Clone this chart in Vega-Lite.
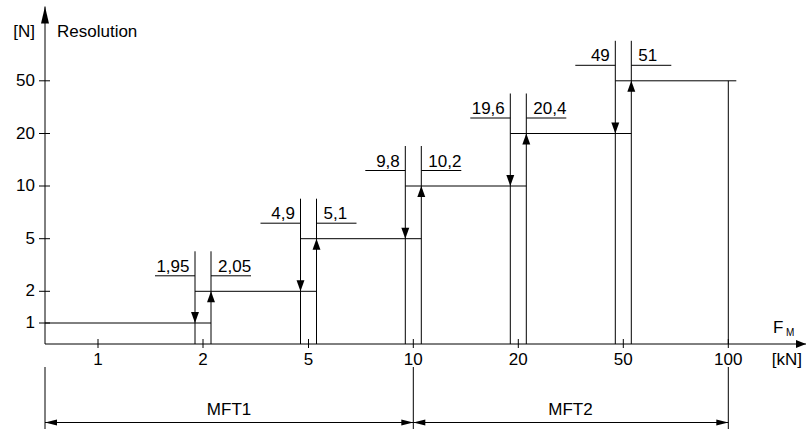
{
  "$schema": "https://vega.github.io/schema/vega-lite/v6.json",
  "width": 806,
  "height": 429,
  "padding": 0,
  "autosize": {"type": "none"},
  "background": "white",
  "config": {
    "view": {"stroke": null},
    "mark": {"color": "black"},
    "rule": {"color": "black", "strokeWidth": 1},
    "text": {"font": "Liberation Sans", "fontSize": 17, "color": "black"},
    "point": {"filled": true, "opacity": 1, "strokeWidth": 0, "color": "black"}
  },
  "datasets": {
    "switches": [
      {"at": 2, "down": "1,95", "up": "2,05", "lo": 1, "hi": 2, "base": 0},
      {"at": 5, "down": "4,9", "up": "5,1", "lo": 2, "hi": 5, "base": 0},
      {"at": 10, "down": "9,8", "up": "10,2", "lo": 5, "hi": 10, "base": 0},
      {"at": 20, "down": "19,6", "up": "20,4", "lo": 10, "hi": 20, "base": 0},
      {"at": 50, "down": "49", "up": "51", "lo": 20, "hi": 50, "base": 0}
    ],
    "levels": [
      {"level": 1, "from": 0, "to": 2},
      {"level": 2, "from": 2, "to": 5},
      {"level": 5, "from": 5, "to": 10},
      {"level": 10, "from": 10, "to": 20},
      {"level": 20, "from": 20, "to": 50},
      {"level": 50, "from": 50, "to": 100}
    ],
    "xticks": [{"v": 1, "origin": 0}, {"v": 2, "origin": 0}, {"v": 5, "origin": 0}, {"v": 10, "origin": 0}, {"v": 20, "origin": 0}, {"v": 50, "origin": 0}, {"v": 100, "origin": 0}],
    "yticks": [{"v": 1, "origin": 0}, {"v": 2, "origin": 0}, {"v": 5, "origin": 0}, {"v": 10, "origin": 0}, {"v": 20, "origin": 0}, {"v": 50, "origin": 0}],
    "ranges": [
      {"name": "MFT1", "from": 0, "to": 10, "mid": 2.74, "dim": -1},
      {"name": "MFT2", "from": 10, "to": 100, "mid": 34.9, "dim": -1}
    ],
    "bounds": [{"at": 0, "base": 0, "dim": -1}, {"at": 10, "base": 0, "dim": -1}, {"at": 100, "base": 0, "dim": -1}],
    "frame": [{"x0": 0, "x_end": 200, "y0": 0, "y_end": 100, "x_last": 100, "y_last": 50}]
  },
  "layer": [
    {
      "data": {"name": "frame"},
      "mark": {"type": "rule"},
      "encoding": {
        "x": {"field": "x0", "type": "quantitative", "axis": null, "scale": {"domain": [0,1,2,5,10,20,50,100,200], "range": [45,98,203,308.5,413.3,518.3,623.3,728.3,806], "zero": false, "nice": false}},
        "y": {"field": "y0", "type": "quantitative", "axis": null, "scale": {"domain": [-1,0,1,2,5,10,20,50,100], "range": [422.5,344,323,291.3,238.7,186,133.5,80.8,6.5], "zero": false, "nice": false}},
        "y2": {"field": "y_end"}
      }
    },
    {
      "data": {"name": "frame"},
      "mark": {"type": "rule"},
      "encoding": {
        "x": {"field": "x0", "type": "quantitative", "axis": null, "scale": {"domain": [0,1,2,5,10,20,50,100,200], "range": [45,98,203,308.5,413.3,518.3,623.3,728.3,806], "zero": false, "nice": false}},
        "x2": {"field": "x_end"},
        "y": {"field": "y0", "type": "quantitative", "axis": null, "scale": {"domain": [-1,0,1,2,5,10,20,50,100], "range": [422.5,344,323,291.3,238.7,186,133.5,80.8,6.5], "zero": false, "nice": false}}
      }
    },
    {
      "data": {"name": "frame"},
      "mark": {"type": "point", "shape": "M-0.235,1 L0.235,1 L0,0 Z", "size": 1156},
      "encoding": {
        "x": {"field": "x0", "type": "quantitative", "axis": null, "scale": {"domain": [0,1,2,5,10,20,50,100,200], "range": [45,98,203,308.5,413.3,518.3,623.3,728.3,806], "zero": false, "nice": false}},
        "y": {"field": "y_end", "type": "quantitative", "axis": null, "scale": {"domain": [-1,0,1,2,5,10,20,50,100], "range": [422.5,344,323,291.3,238.7,186,133.5,80.8,6.5], "zero": false, "nice": false}}
      }
    },
    {
      "data": {"name": "frame"},
      "mark": {"type": "point", "shape": "M-1,-0.4 L-1,0.4 L0,0 Z", "size": 400},
      "encoding": {
        "x": {"field": "x_end", "type": "quantitative", "axis": null, "scale": {"domain": [0,1,2,5,10,20,50,100,200], "range": [45,98,203,308.5,413.3,518.3,623.3,728.3,806], "zero": false, "nice": false}},
        "y": {"field": "y0", "type": "quantitative", "axis": null, "scale": {"domain": [-1,0,1,2,5,10,20,50,100], "range": [422.5,344,323,291.3,238.7,186,133.5,80.8,6.5], "zero": false, "nice": false}}
      }
    },
    {
      "data": {"name": "yticks"},
      "mark": {"type": "rule", "xOffset": -6, "x2Offset": 5},
      "encoding": {
        "x": {"field": "origin", "type": "quantitative", "axis": null, "scale": {"domain": [0,1,2,5,10,20,50,100,200], "range": [45,98,203,308.5,413.3,518.3,623.3,728.3,806], "zero": false, "nice": false}},
        "x2": {"field": "origin"},
        "y": {"field": "v", "type": "quantitative", "axis": null, "scale": {"domain": [-1,0,1,2,5,10,20,50,100], "range": [422.5,344,323,291.3,238.7,186,133.5,80.8,6.5], "zero": false, "nice": false}}
      }
    },
    {
      "data": {"name": "yticks"},
      "mark": {"type": "text", "align": "right", "baseline": "middle", "dx": -10},
      "encoding": {
        "x": {"field": "origin", "type": "quantitative", "axis": null, "scale": {"domain": [0,1,2,5,10,20,50,100,200], "range": [45,98,203,308.5,413.3,518.3,623.3,728.3,806], "zero": false, "nice": false}},
        "y": {"field": "v", "type": "quantitative", "axis": null, "scale": {"domain": [-1,0,1,2,5,10,20,50,100], "range": [422.5,344,323,291.3,238.7,186,133.5,80.8,6.5], "zero": false, "nice": false}},
        "text": {"field": "v", "type": "nominal"}
      }
    },
    {
      "data": {"name": "xticks"},
      "mark": {"type": "rule", "yOffset": 4, "y2Offset": -5},
      "encoding": {
        "x": {"field": "v", "type": "quantitative", "axis": null, "scale": {"domain": [0,1,2,5,10,20,50,100,200], "range": [45,98,203,308.5,413.3,518.3,623.3,728.3,806], "zero": false, "nice": false}},
        "y": {"field": "origin", "type": "quantitative", "axis": null, "scale": {"domain": [-1,0,1,2,5,10,20,50,100], "range": [422.5,344,323,291.3,238.7,186,133.5,80.8,6.5], "zero": false, "nice": false}},
        "y2": {"field": "origin"}
      }
    },
    {
      "data": {"name": "xticks"},
      "mark": {"type": "text", "align": "center", "baseline": "alphabetic", "dy": 20.5},
      "encoding": {
        "x": {"field": "v", "type": "quantitative", "axis": null, "scale": {"domain": [0,1,2,5,10,20,50,100,200], "range": [45,98,203,308.5,413.3,518.3,623.3,728.3,806], "zero": false, "nice": false}},
        "y": {"field": "origin", "type": "quantitative", "axis": null, "scale": {"domain": [-1,0,1,2,5,10,20,50,100], "range": [422.5,344,323,291.3,238.7,186,133.5,80.8,6.5], "zero": false, "nice": false}},
        "text": {"field": "v", "type": "nominal"}
      }
    },
    {
      "data": {"name": "levels"},
      "transform": [{"filter": "datum.from > 0"}],
      "mark": {"type": "rule", "xOffset": -8, "x2Offset": 8},
      "encoding": {
        "x": {"field": "from", "type": "quantitative", "axis": null, "scale": {"domain": [0,1,2,5,10,20,50,100,200], "range": [45,98,203,308.5,413.3,518.3,623.3,728.3,806], "zero": false, "nice": false}},
        "x2": {"field": "to"},
        "y": {"field": "level", "type": "quantitative", "axis": null, "scale": {"domain": [-1,0,1,2,5,10,20,50,100], "range": [422.5,344,323,291.3,238.7,186,133.5,80.8,6.5], "zero": false, "nice": false}}
      }
    },
    {
      "data": {"name": "levels"},
      "transform": [{"filter": "datum.from == 0"}],
      "mark": {"type": "rule", "x2Offset": 8},
      "encoding": {
        "x": {"field": "from", "type": "quantitative", "axis": null, "scale": {"domain": [0,1,2,5,10,20,50,100,200], "range": [45,98,203,308.5,413.3,518.3,623.3,728.3,806], "zero": false, "nice": false}},
        "x2": {"field": "to"},
        "y": {"field": "level", "type": "quantitative", "axis": null, "scale": {"domain": [-1,0,1,2,5,10,20,50,100], "range": [422.5,344,323,291.3,238.7,186,133.5,80.8,6.5], "zero": false, "nice": false}}
      }
    },
    {
      "data": {"name": "switches"},
      "mark": {"type": "rule", "xOffset": -8, "y2Offset": -40},
      "encoding": {
        "x": {"field": "at", "type": "quantitative", "axis": null, "scale": {"domain": [0,1,2,5,10,20,50,100,200], "range": [45,98,203,308.5,413.3,518.3,623.3,728.3,806], "zero": false, "nice": false}},
        "y": {"field": "base", "type": "quantitative", "axis": null, "scale": {"domain": [-1,0,1,2,5,10,20,50,100], "range": [422.5,344,323,291.3,238.7,186,133.5,80.8,6.5], "zero": false, "nice": false}},
        "y2": {"field": "hi"}
      }
    },
    {
      "data": {"name": "switches"},
      "mark": {"type": "rule", "xOffset": 8, "y2Offset": -40},
      "encoding": {
        "x": {"field": "at", "type": "quantitative", "axis": null, "scale": {"domain": [0,1,2,5,10,20,50,100,200], "range": [45,98,203,308.5,413.3,518.3,623.3,728.3,806], "zero": false, "nice": false}},
        "y": {"field": "base", "type": "quantitative", "axis": null, "scale": {"domain": [-1,0,1,2,5,10,20,50,100], "range": [422.5,344,323,291.3,238.7,186,133.5,80.8,6.5], "zero": false, "nice": false}},
        "y2": {"field": "hi"}
      }
    },
    {
      "data": {"name": "switches"},
      "mark": {"type": "point", "shape": "M-0.36,-1 L0.36,-1 L0,0 Z", "size": 484, "xOffset": -8},
      "encoding": {
        "x": {"field": "at", "type": "quantitative", "axis": null, "scale": {"domain": [0,1,2,5,10,20,50,100,200], "range": [45,98,203,308.5,413.3,518.3,623.3,728.3,806], "zero": false, "nice": false}},
        "y": {"field": "lo", "type": "quantitative", "axis": null, "scale": {"domain": [-1,0,1,2,5,10,20,50,100], "range": [422.5,344,323,291.3,238.7,186,133.5,80.8,6.5], "zero": false, "nice": false}}
      }
    },
    {
      "data": {"name": "switches"},
      "mark": {"type": "point", "shape": "M-0.36,1 L0.36,1 L0,0 Z", "size": 484, "xOffset": 8},
      "encoding": {
        "x": {"field": "at", "type": "quantitative", "axis": null, "scale": {"domain": [0,1,2,5,10,20,50,100,200], "range": [45,98,203,308.5,413.3,518.3,623.3,728.3,806], "zero": false, "nice": false}},
        "y": {"field": "hi", "type": "quantitative", "axis": null, "scale": {"domain": [-1,0,1,2,5,10,20,50,100], "range": [422.5,344,323,291.3,238.7,186,133.5,80.8,6.5], "zero": false, "nice": false}}
      }
    },
    {
      "data": {"name": "switches"},
      "mark": {"type": "rule", "xOffset": -48, "x2Offset": -8, "yOffset": -15.5},
      "encoding": {
        "x": {"field": "at", "type": "quantitative", "axis": null, "scale": {"domain": [0,1,2,5,10,20,50,100,200], "range": [45,98,203,308.5,413.3,518.3,623.3,728.3,806], "zero": false, "nice": false}},
        "x2": {"field": "at"},
        "y": {"field": "hi", "type": "quantitative", "axis": null, "scale": {"domain": [-1,0,1,2,5,10,20,50,100], "range": [422.5,344,323,291.3,238.7,186,133.5,80.8,6.5], "zero": false, "nice": false}}
      }
    },
    {
      "data": {"name": "switches"},
      "mark": {"type": "rule", "xOffset": 8, "x2Offset": 48, "yOffset": -15.5},
      "encoding": {
        "x": {"field": "at", "type": "quantitative", "axis": null, "scale": {"domain": [0,1,2,5,10,20,50,100,200], "range": [45,98,203,308.5,413.3,518.3,623.3,728.3,806], "zero": false, "nice": false}},
        "x2": {"field": "at"},
        "y": {"field": "hi", "type": "quantitative", "axis": null, "scale": {"domain": [-1,0,1,2,5,10,20,50,100], "range": [422.5,344,323,291.3,238.7,186,133.5,80.8,6.5], "zero": false, "nice": false}}
      }
    },
    {
      "data": {"name": "switches"},
      "mark": {"type": "text", "align": "right", "baseline": "alphabetic", "dx": -13.5, "dy": -19.5},
      "encoding": {
        "x": {"field": "at", "type": "quantitative", "axis": null, "scale": {"domain": [0,1,2,5,10,20,50,100,200], "range": [45,98,203,308.5,413.3,518.3,623.3,728.3,806], "zero": false, "nice": false}},
        "y": {"field": "hi", "type": "quantitative", "axis": null, "scale": {"domain": [-1,0,1,2,5,10,20,50,100], "range": [422.5,344,323,291.3,238.7,186,133.5,80.8,6.5], "zero": false, "nice": false}},
        "text": {"field": "down", "type": "nominal"}
      }
    },
    {
      "data": {"name": "switches"},
      "mark": {"type": "text", "align": "left", "baseline": "alphabetic", "dx": 15, "dy": -19.5},
      "encoding": {
        "x": {"field": "at", "type": "quantitative", "axis": null, "scale": {"domain": [0,1,2,5,10,20,50,100,200], "range": [45,98,203,308.5,413.3,518.3,623.3,728.3,806], "zero": false, "nice": false}},
        "y": {"field": "hi", "type": "quantitative", "axis": null, "scale": {"domain": [-1,0,1,2,5,10,20,50,100], "range": [422.5,344,323,291.3,238.7,186,133.5,80.8,6.5], "zero": false, "nice": false}},
        "text": {"field": "up", "type": "nominal"}
      }
    },
    {
      "data": {"name": "frame"},
      "mark": {"type": "rule"},
      "encoding": {
        "x": {"field": "x_last", "type": "quantitative", "axis": null, "scale": {"domain": [0,1,2,5,10,20,50,100,200], "range": [45,98,203,308.5,413.3,518.3,623.3,728.3,806], "zero": false, "nice": false}},
        "y": {"field": "y0", "type": "quantitative", "axis": null, "scale": {"domain": [-1,0,1,2,5,10,20,50,100], "range": [422.5,344,323,291.3,238.7,186,133.5,80.8,6.5], "zero": false, "nice": false}},
        "y2": {"field": "y_last"}
      }
    },
    {
      "data": {"name": "bounds"},
      "mark": {"type": "rule", "yOffset": 23, "y2Offset": 7},
      "encoding": {
        "x": {"field": "at", "type": "quantitative", "axis": null, "scale": {"domain": [0,1,2,5,10,20,50,100,200], "range": [45,98,203,308.5,413.3,518.3,623.3,728.3,806], "zero": false, "nice": false}},
        "y": {"field": "base", "type": "quantitative", "axis": null, "scale": {"domain": [-1,0,1,2,5,10,20,50,100], "range": [422.5,344,323,291.3,238.7,186,133.5,80.8,6.5], "zero": false, "nice": false}},
        "y2": {"field": "dim"}
      }
    },
    {
      "data": {"name": "ranges"},
      "mark": {"type": "rule"},
      "encoding": {
        "x": {"field": "from", "type": "quantitative", "axis": null, "scale": {"domain": [0,1,2,5,10,20,50,100,200], "range": [45,98,203,308.5,413.3,518.3,623.3,728.3,806], "zero": false, "nice": false}},
        "x2": {"field": "to"},
        "y": {"field": "dim", "type": "quantitative", "axis": null, "scale": {"domain": [-1,0,1,2,5,10,20,50,100], "range": [422.5,344,323,291.3,238.7,186,133.5,80.8,6.5], "zero": false, "nice": false}}
      }
    },
    {
      "data": {"name": "ranges"},
      "mark": {"type": "point", "shape": "M1,-0.25 L1,0.25 L0,0 Z", "size": 576},
      "encoding": {
        "x": {"field": "from", "type": "quantitative", "axis": null, "scale": {"domain": [0,1,2,5,10,20,50,100,200], "range": [45,98,203,308.5,413.3,518.3,623.3,728.3,806], "zero": false, "nice": false}},
        "y": {"field": "dim", "type": "quantitative", "axis": null, "scale": {"domain": [-1,0,1,2,5,10,20,50,100], "range": [422.5,344,323,291.3,238.7,186,133.5,80.8,6.5], "zero": false, "nice": false}}
      }
    },
    {
      "data": {"name": "ranges"},
      "mark": {"type": "point", "shape": "M-1,-0.25 L-1,0.25 L0,0 Z", "size": 576},
      "encoding": {
        "x": {"field": "to", "type": "quantitative", "axis": null, "scale": {"domain": [0,1,2,5,10,20,50,100,200], "range": [45,98,203,308.5,413.3,518.3,623.3,728.3,806], "zero": false, "nice": false}},
        "y": {"field": "dim", "type": "quantitative", "axis": null, "scale": {"domain": [-1,0,1,2,5,10,20,50,100], "range": [422.5,344,323,291.3,238.7,186,133.5,80.8,6.5], "zero": false, "nice": false}}
      }
    },
    {
      "data": {"name": "ranges"},
      "mark": {"type": "text", "align": "center", "baseline": "alphabetic", "dy": -7.5},
      "encoding": {
        "x": {"field": "mid", "type": "quantitative", "axis": null, "scale": {"domain": [0,1,2,5,10,20,50,100,200], "range": [45,98,203,308.5,413.3,518.3,623.3,728.3,806], "zero": false, "nice": false}},
        "y": {"field": "dim", "type": "quantitative", "axis": null, "scale": {"domain": [-1,0,1,2,5,10,20,50,100], "range": [422.5,344,323,291.3,238.7,186,133.5,80.8,6.5], "zero": false, "nice": false}},
        "text": {"field": "name", "type": "nominal"}
      }
    },
    {
      "data": {"name": "frame"},
      "mark": {"type": "text", "align": "right", "baseline": "alphabetic", "dx": -10, "dy": 30.5, "text": "[N]"},
      "encoding": {
        "x": {"field": "x0", "type": "quantitative", "axis": null, "scale": {"domain": [0,1,2,5,10,20,50,100,200], "range": [45,98,203,308.5,413.3,518.3,623.3,728.3,806], "zero": false, "nice": false}},
        "y": {"field": "y_end", "type": "quantitative", "axis": null, "scale": {"domain": [-1,0,1,2,5,10,20,50,100], "range": [422.5,344,323,291.3,238.7,186,133.5,80.8,6.5], "zero": false, "nice": false}}
      }
    },
    {
      "data": {"name": "frame"},
      "mark": {"type": "text", "align": "left", "baseline": "alphabetic", "dx": 12, "dy": 30.5, "text": "Resolution"},
      "encoding": {
        "x": {"field": "x0", "type": "quantitative", "axis": null, "scale": {"domain": [0,1,2,5,10,20,50,100,200], "range": [45,98,203,308.5,413.3,518.3,623.3,728.3,806], "zero": false, "nice": false}},
        "y": {"field": "y_end", "type": "quantitative", "axis": null, "scale": {"domain": [-1,0,1,2,5,10,20,50,100], "range": [422.5,344,323,291.3,238.7,186,133.5,80.8,6.5], "zero": false, "nice": false}}
      }
    },
    {
      "data": {"name": "frame"},
      "mark": {"type": "text", "align": "left", "baseline": "alphabetic", "dx": -33, "dy": -11.5, "text": "F"},
      "encoding": {
        "x": {"field": "x_end", "type": "quantitative", "axis": null, "scale": {"domain": [0,1,2,5,10,20,50,100,200], "range": [45,98,203,308.5,413.3,518.3,623.3,728.3,806], "zero": false, "nice": false}},
        "y": {"field": "y0", "type": "quantitative", "axis": null, "scale": {"domain": [-1,0,1,2,5,10,20,50,100], "range": [422.5,344,323,291.3,238.7,186,133.5,80.8,6.5], "zero": false, "nice": false}}
      }
    },
    {
      "data": {"name": "frame"},
      "mark": {"type": "text", "align": "left", "baseline": "alphabetic", "dx": -20, "dy": -8.5, "fontSize": 10, "text": "M"},
      "encoding": {
        "x": {"field": "x_end", "type": "quantitative", "axis": null, "scale": {"domain": [0,1,2,5,10,20,50,100,200], "range": [45,98,203,308.5,413.3,518.3,623.3,728.3,806], "zero": false, "nice": false}},
        "y": {"field": "y0", "type": "quantitative", "axis": null, "scale": {"domain": [-1,0,1,2,5,10,20,50,100], "range": [422.5,344,323,291.3,238.7,186,133.5,80.8,6.5], "zero": false, "nice": false}}
      }
    },
    {
      "data": {"name": "frame"},
      "mark": {"type": "text", "align": "right", "baseline": "alphabetic", "dx": -4, "dy": 20.5, "text": "[kN]"},
      "encoding": {
        "x": {"field": "x_end", "type": "quantitative", "axis": null, "scale": {"domain": [0,1,2,5,10,20,50,100,200], "range": [45,98,203,308.5,413.3,518.3,623.3,728.3,806], "zero": false, "nice": false}},
        "y": {"field": "y0", "type": "quantitative", "axis": null, "scale": {"domain": [-1,0,1,2,5,10,20,50,100], "range": [422.5,344,323,291.3,238.7,186,133.5,80.8,6.5], "zero": false, "nice": false}}
      }
    }
  ]
}
